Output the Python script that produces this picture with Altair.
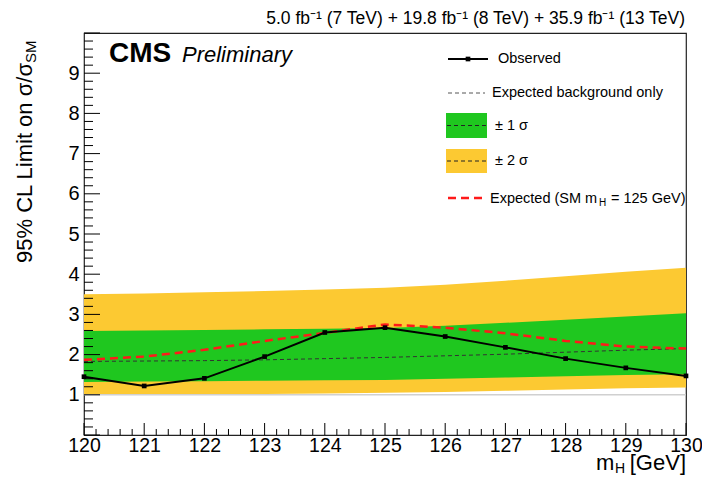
import altair as alt
import pandas as pd

# ---------------- data ----------------
mass = [120, 121, 122, 123, 124, 125, 126, 127, 128, 129, 130]
observed = [1.45, 1.22, 1.41, 1.95, 2.55, 2.67, 2.45, 2.18, 1.90, 1.67, 1.47]
exp_bg = [1.83, 1.84, 1.85, 1.87, 1.90, 1.93, 1.97, 2.01, 2.06, 2.11, 2.15]
exp_sm = [1.87, 1.95, 2.12, 2.34, 2.54, 2.75, 2.67, 2.53, 2.34, 2.20, 2.15]
band1_lo = [1.32, 1.33, 1.34, 1.35, 1.36, 1.37, 1.40, 1.43, 1.46, 1.49, 1.51]
band1_hi = [2.59, 2.60, 2.61, 2.63, 2.64, 2.66, 2.72, 2.79, 2.87, 2.95, 3.03]
band2_lo = [1.00, 1.005, 1.01, 1.02, 1.03, 1.05, 1.07, 1.10, 1.13, 1.16, 1.18]
band2_hi = [3.50, 3.52, 3.55, 3.58, 3.62, 3.66, 3.74, 3.84, 3.95, 4.06, 4.16]

x_labels = [120, 121, 122, 123, 124, 125, 126, 127, 128, 129, 130]
y_labels = [1, 2, 3, 4, 5, 6, 7, 8, 9]
x_major = [120 + i for i in range(11)]
x_minor = [round(120 + i * 0.2, 1) for i in range(51) if i % 5]
y_major = [i for i in range(11)]
y_minor = [round(i * 0.2, 1) for i in range(51) if i % 5]

FONT = "Liberation Sans"
GREEN = "#1fc71f"
YELLOW = "#fcc932"
W, H = 602, 402

df = pd.DataFrame({
    "m": mass, "obs": observed, "bg": exp_bg, "sm": exp_sm,
    "b1lo": band1_lo, "b1hi": band1_hi, "b2lo": band2_lo, "b2hi": band2_hi,
})

xs = alt.Scale(domain=[120, 130], nice=False, zero=False)
ys = alt.Scale(domain=[0, 10], nice=False, zero=False)
xaxis = alt.Axis(values=x_labels, title=None, grid=False, ticks=False, tickSize=0,
                 domain=False, labelFont=FONT, labelFontSize=19.5, labelColor="black",
                 labelPadding=1, format="d", labelFlush=False, labelOverlap=False)
yaxis = alt.Axis(values=y_labels, title=None, grid=False, ticks=False, tickSize=0,
                 domain=False, labelFont=FONT, labelFontSize=20, labelColor="black",
                 labelPadding=5, format="d", labelFlush=False, labelOverlap=False)

X = alt.X("m:Q", scale=xs, axis=xaxis)

def Y(f):
    return alt.Y(f, scale=ys, axis=yaxis)

band2 = alt.Chart(df).mark_area(color=YELLOW, opacity=1).encode(x=X, y=Y("b2lo:Q"), y2="b2hi:Q")
band1 = alt.Chart(df).mark_area(color=GREEN, opacity=1).encode(x=X, y=Y("b1lo:Q"), y2="b1hi:Q")
one_line = alt.Chart(pd.DataFrame({"v": [1.0]})).mark_rule(color="#d0d0d0", strokeWidth=1.5).encode(
    y=Y("v:Q"), x=alt.value(0), x2=alt.value(W))
bg_line = alt.Chart(df).mark_line(color="#333333", strokeWidth=1, strokeDash=[4, 3]).encode(x=X, y=Y("bg:Q"))
sm_line = alt.Chart(df).mark_line(color="#ff1a1a", strokeWidth=2.5, strokeDash=[8, 5]).encode(x=X, y=Y("sm:Q"))
obs_line = alt.Chart(df).mark_line(color="black", strokeWidth=2).encode(x=X, y=Y("obs:Q"))
obs_pts = alt.Chart(df).mark_square(color="black", size=22, opacity=1).encode(x=X, y=Y("obs:Q"))

# inward ROOT-style ticks
def xticks(vals, length):
    return alt.Chart(pd.DataFrame({"v": vals})).mark_rule(color="black", strokeWidth=1).encode(
        x=alt.X("v:Q", scale=xs, axis=xaxis), y=alt.value(H), y2=alt.value(H - length))

def yticks(vals, length):
    return alt.Chart(pd.DataFrame({"v": vals})).mark_rule(color="black", strokeWidth=1).encode(
        y=Y("v:Q"), x=alt.value(0), x2=alt.value(length))

ticks = [xticks(x_major, 12), xticks(x_minor, 6), yticks(y_major, 16), yticks(y_minor, 9)]

# ---------------- annotations ----------------
def label(text, x, y, size, align="left", baseline="alphabetic", **kw):
    return alt.Chart(pd.DataFrame({"t": [text]})).mark_text(
        font=FONT, fontSize=size, align=align, baseline=baseline, color="black", **kw
    ).encode(x=alt.value(x), y=alt.value(y), text="t:N")

def hline(x1, x2, y, **kw):
    return alt.Chart(pd.DataFrame({"a": [0]})).mark_rule(**kw).encode(
        x=alt.value(x1), x2=alt.value(x2), y=alt.value(y))

def box(x1, x2, y1, y2, color):
    return alt.Chart(pd.DataFrame({"a": [0]})).mark_rect(color=color).encode(
        x=alt.value(x1), x2=alt.value(x2), y=alt.value(y1), y2=alt.value(y2))

LFS = 14.5
legend = [
    hline(364, 404, 26, color="black", strokeWidth=2),
    alt.Chart(pd.DataFrame({"a": [0]})).mark_square(color="black", size=22, opacity=1).encode(
        x=alt.value(384), y=alt.value(26)),
    label("Observed", 414, 26, LFS, baseline="middle"),
    hline(364, 401, 60, color="#555555", strokeWidth=1, strokeDash=[4, 3]),
    label("Expected background only", 408, 60, LFS, baseline="middle"),
    box(362, 403, 80, 105, GREEN),
    hline(363, 402, 92.5, color="#222222", strokeWidth=1, strokeDash=[4, 3]),
    label("± 1 σ", 411, 92.5, LFS, baseline="middle"),
    box(362, 403, 116, 140, YELLOW),
    hline(363, 402, 128, color="#222222", strokeWidth=1, strokeDash=[4, 3]),
    label("± 2 σ", 411, 128, LFS, baseline="middle"),
    hline(364, 401, 165, color="#ff1a1a", strokeWidth=2.5, strokeDash=[8, 5]),
    label("Expected (SM m", 406, 170, LFS),
    label("H", 515, 173, 10),
    label("= 125 GeV)", 527, 170, LFS),
]

texts = [
    label("CMS", 25, 29, 28, fontWeight="bold"),
    label("Preliminary", 98, 29, 22, fontStyle="italic"),
    label("5.0 fb⁻¹ (7 TeV) + 19.8 fb⁻¹ (8 TeV) + 35.9 fb⁻¹ (13 TeV)", 601, -9, 17.5, align="right"),
    label("95% CL Limit on σ/σ", -52, 230, 22, angle=270),
    label("SM", -48, 30, 15, angle=270),
    label("m", 512, 437, 22),
    label("H", 531, 440, 14),
    label("[GeV]", W, 437, 22, align="right"),
]

chart = alt.layer(
    band2, band1, one_line, bg_line, sm_line, obs_line, obs_pts, *ticks, *legend, *texts
).properties(
    width=W, height=H,
    autosize=alt.AutoSizeParams(type="none"),
    padding={"left": 76, "top": 25, "right": 16, "bottom": 41},
    background="white",
).configure_view(stroke="#222222", strokeWidth=1.2)

chart.save("out.html", embed_options={"renderer": "svg", "actions": False})
